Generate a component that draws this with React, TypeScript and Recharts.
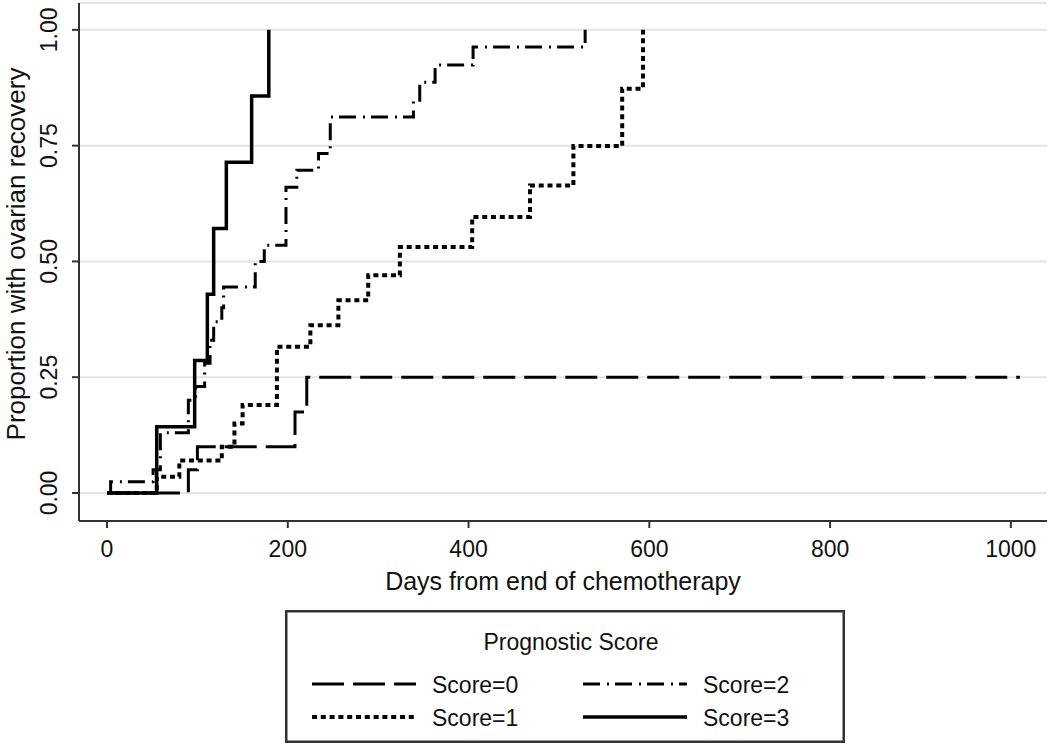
import React from 'react';
import { LineChart, Line, XAxis, YAxis, CartesianGrid, Legend } from 'recharts';

const FONT = '"Liberation Sans", Arial, Helvetica, sans-serif';

// Kaplan-Meier style step data (days from end of chemotherapy, proportion recovered)
const score0Days = [0, 90, 100, 208, 221, 1010];
const score0Prop = [0, 0.05, 0.1, 0.175, 0.25, 0.25];

const score1Days = [0, 55, 80, 127, 141, 150, 188, 225, 256, 289, 324, 404, 468, 516, 570, 593];
const score1Prop = [0, 0.035, 0.07, 0.1, 0.15, 0.19, 0.316, 0.362, 0.416, 0.47, 0.531, 0.596, 0.664, 0.749, 0.873, 1.0];

const score2Days = [0, 4, 51, 59, 90, 98, 108, 114, 118, 127, 129, 164, 174, 198, 210, 234, 247, 339, 346, 363, 405, 529];
const score2Prop = [0, 0.024, 0.05, 0.13, 0.2, 0.23, 0.28, 0.33, 0.37, 0.4, 0.445, 0.5, 0.535, 0.66, 0.697, 0.733, 0.812, 0.848, 0.887, 0.924, 0.963, 1.0];

const score3Days = [0, 55, 97, 111, 118, 132, 160, 179];
const score3Prop = [0, 0.143, 0.286, 0.429, 0.571, 0.714, 0.857, 1.0];

const xTicks = [0, 200, 400, 600, 800, 1000];
const yTicks = [0, 0.25, 0.5, 0.75, 1];
const seriesNames = ['Score=0', 'Score=1', 'Score=2', 'Score=3'];

const xTitle = 'Days from end of chemotherapy';
const yTitle = 'Proportion with ovarian recovery';
const legendTitle = 'Prognostic Score';

const toRows = (days: number[], props: number[]) => days.map((d, i) => ({ day: d, p: props[i] }));

const series = [
  { name: seriesNames[0], data: toRows(score0Days, score0Prop), dash: '32 9', width: 3 },
  { name: seriesNames[1], data: toRows(score1Days, score1Prop), dash: '5 3.8', width: 4 },
  { name: seriesNames[2], data: toRows(score2Days, score2Prop), dash: '17 7 2 6', width: 3 },
  { name: seriesNames[3], data: toRows(score3Days, score3Prop), dash: undefined as string | undefined, width: 3.5 },
];

const XTick = (props: any) => {
  const { x, y, payload } = props;
  return (
    <text x={x} y={y} dy={27} textAnchor="middle" fontSize={23} fontFamily={FONT} fill="#111">
      {payload.value}
    </text>
  );
};

const YTick = (props: any) => {
  const { x, y, payload } = props;
  const bx = x - 13;
  return (
    <text
      x={bx}
      y={y}
      transform={`rotate(-90, ${bx}, ${y})`}
      textAnchor="middle"
      fontSize={23}
      fontFamily={FONT}
      fill="#111"
    >
      {Number(payload.value).toFixed(2)}
    </text>
  );
};

const XTitle = (props: any) => {
  const vb = props.viewBox || { x: 79, y: 521, width: 968, height: 80 };
  return (
    <text x={vb.x + vb.width / 2} y={vb.y + 69} textAnchor="middle" fontSize={25} fontFamily={FONT} fill="#111">
      {xTitle}
    </text>
  );
};

const YTitle = (props: any) => {
  const vb = props.viewBox || { x: 0, y: 3, width: 79, height: 518 };
  const cx = vb.x + 25;
  const cy = vb.y + vb.height / 2 - 8;
  return (
    <text
      x={cx}
      y={cy}
      transform={`rotate(-90, ${cx}, ${cy})`}
      textAnchor="middle"
      fontSize={26}
      fontFamily={FONT}
      fill="#111"
    >
      {yTitle}
    </text>
  );
};

const LegendBox = () => {
  const W = 560;
  const H = 133;
  return (
    <svg width={W} height={H} style={{ display: 'block' }}>
      <rect x={1.25} y={1.25} width={W - 2.5} height={H - 2.5} fill="#fff" stroke="#333" strokeWidth={2.5} />
      <text x={W / 2 + 6} y={40} textAnchor="middle" fontSize={23} fontFamily={FONT} fill="#111">
        {legendTitle}
      </text>
      {series.map((s, i) => {
        const col = Math.floor(i / 2);
        const row = i % 2;
        const sx = 27 + col * 271;
        const sy = 74 + row * 33;
        return (
          <g key={s.name}>
            <line
              x1={sx}
              y1={sy}
              x2={sx + 104}
              y2={sy}
              stroke="#000"
              strokeWidth={s.width}
              strokeDasharray={s.dash}
            />
            <text x={sx + 120} y={sy + 9} fontSize={23} fontFamily={FONT} fill="#111">
              {s.name}
            </text>
          </g>
        );
      })}
    </svg>
  );
};

export default function App() {
  return (
    <div style={{ position: 'absolute', left: 0, top: 0, width: 1050, height: 744, background: '#fff' }}>
      <LineChart width={1050} height={744} margin={{ top: 3, right: 3, left: 0, bottom: 143 }}>
        <CartesianGrid horizontal vertical={false} stroke="#e4e4e4" strokeWidth={2} />
        <XAxis
          type="number"
          dataKey="day"
          domain={[-31, 1040]}
          ticks={xTicks}
          allowDataOverflow
          height={80}
          tickSize={7}
          tick={<XTick />}
          axisLine={{ stroke: '#333', strokeWidth: 2 }}
          tickLine={{ stroke: '#333', strokeWidth: 2 }}
          label={<XTitle />}
        />
        <YAxis
          type="number"
          dataKey="p"
          domain={[-0.0605, 1.058]}
          ticks={yTicks}
          allowDataOverflow
          width={79}
          tickSize={7}
          tick={<YTick />}
          axisLine={{ stroke: '#333', strokeWidth: 2 }}
          tickLine={{ stroke: '#333', strokeWidth: 2 }}
          label={<YTitle />}
        />
        {series.map((s) => (
          <Line
            key={s.name}
            name={s.name}
            data={s.data}
            dataKey="p"
            type="stepAfter"
            stroke="#000"
            strokeWidth={s.width}
            strokeDasharray={s.dash}
            strokeLinecap="butt"
            dot={false}
            activeDot={false}
            isAnimationActive={false}
          />
        ))}
        <Legend
          layout="horizontal"
          verticalAlign="middle"
          align="center"
          content={<LegendBox />}
          wrapperStyle={{ position: 'absolute', left: 285, top: 610, width: 560, height: 133, bottom: 'auto', right: 'auto' }}
        />
      </LineChart>
    </div>
  );
}
